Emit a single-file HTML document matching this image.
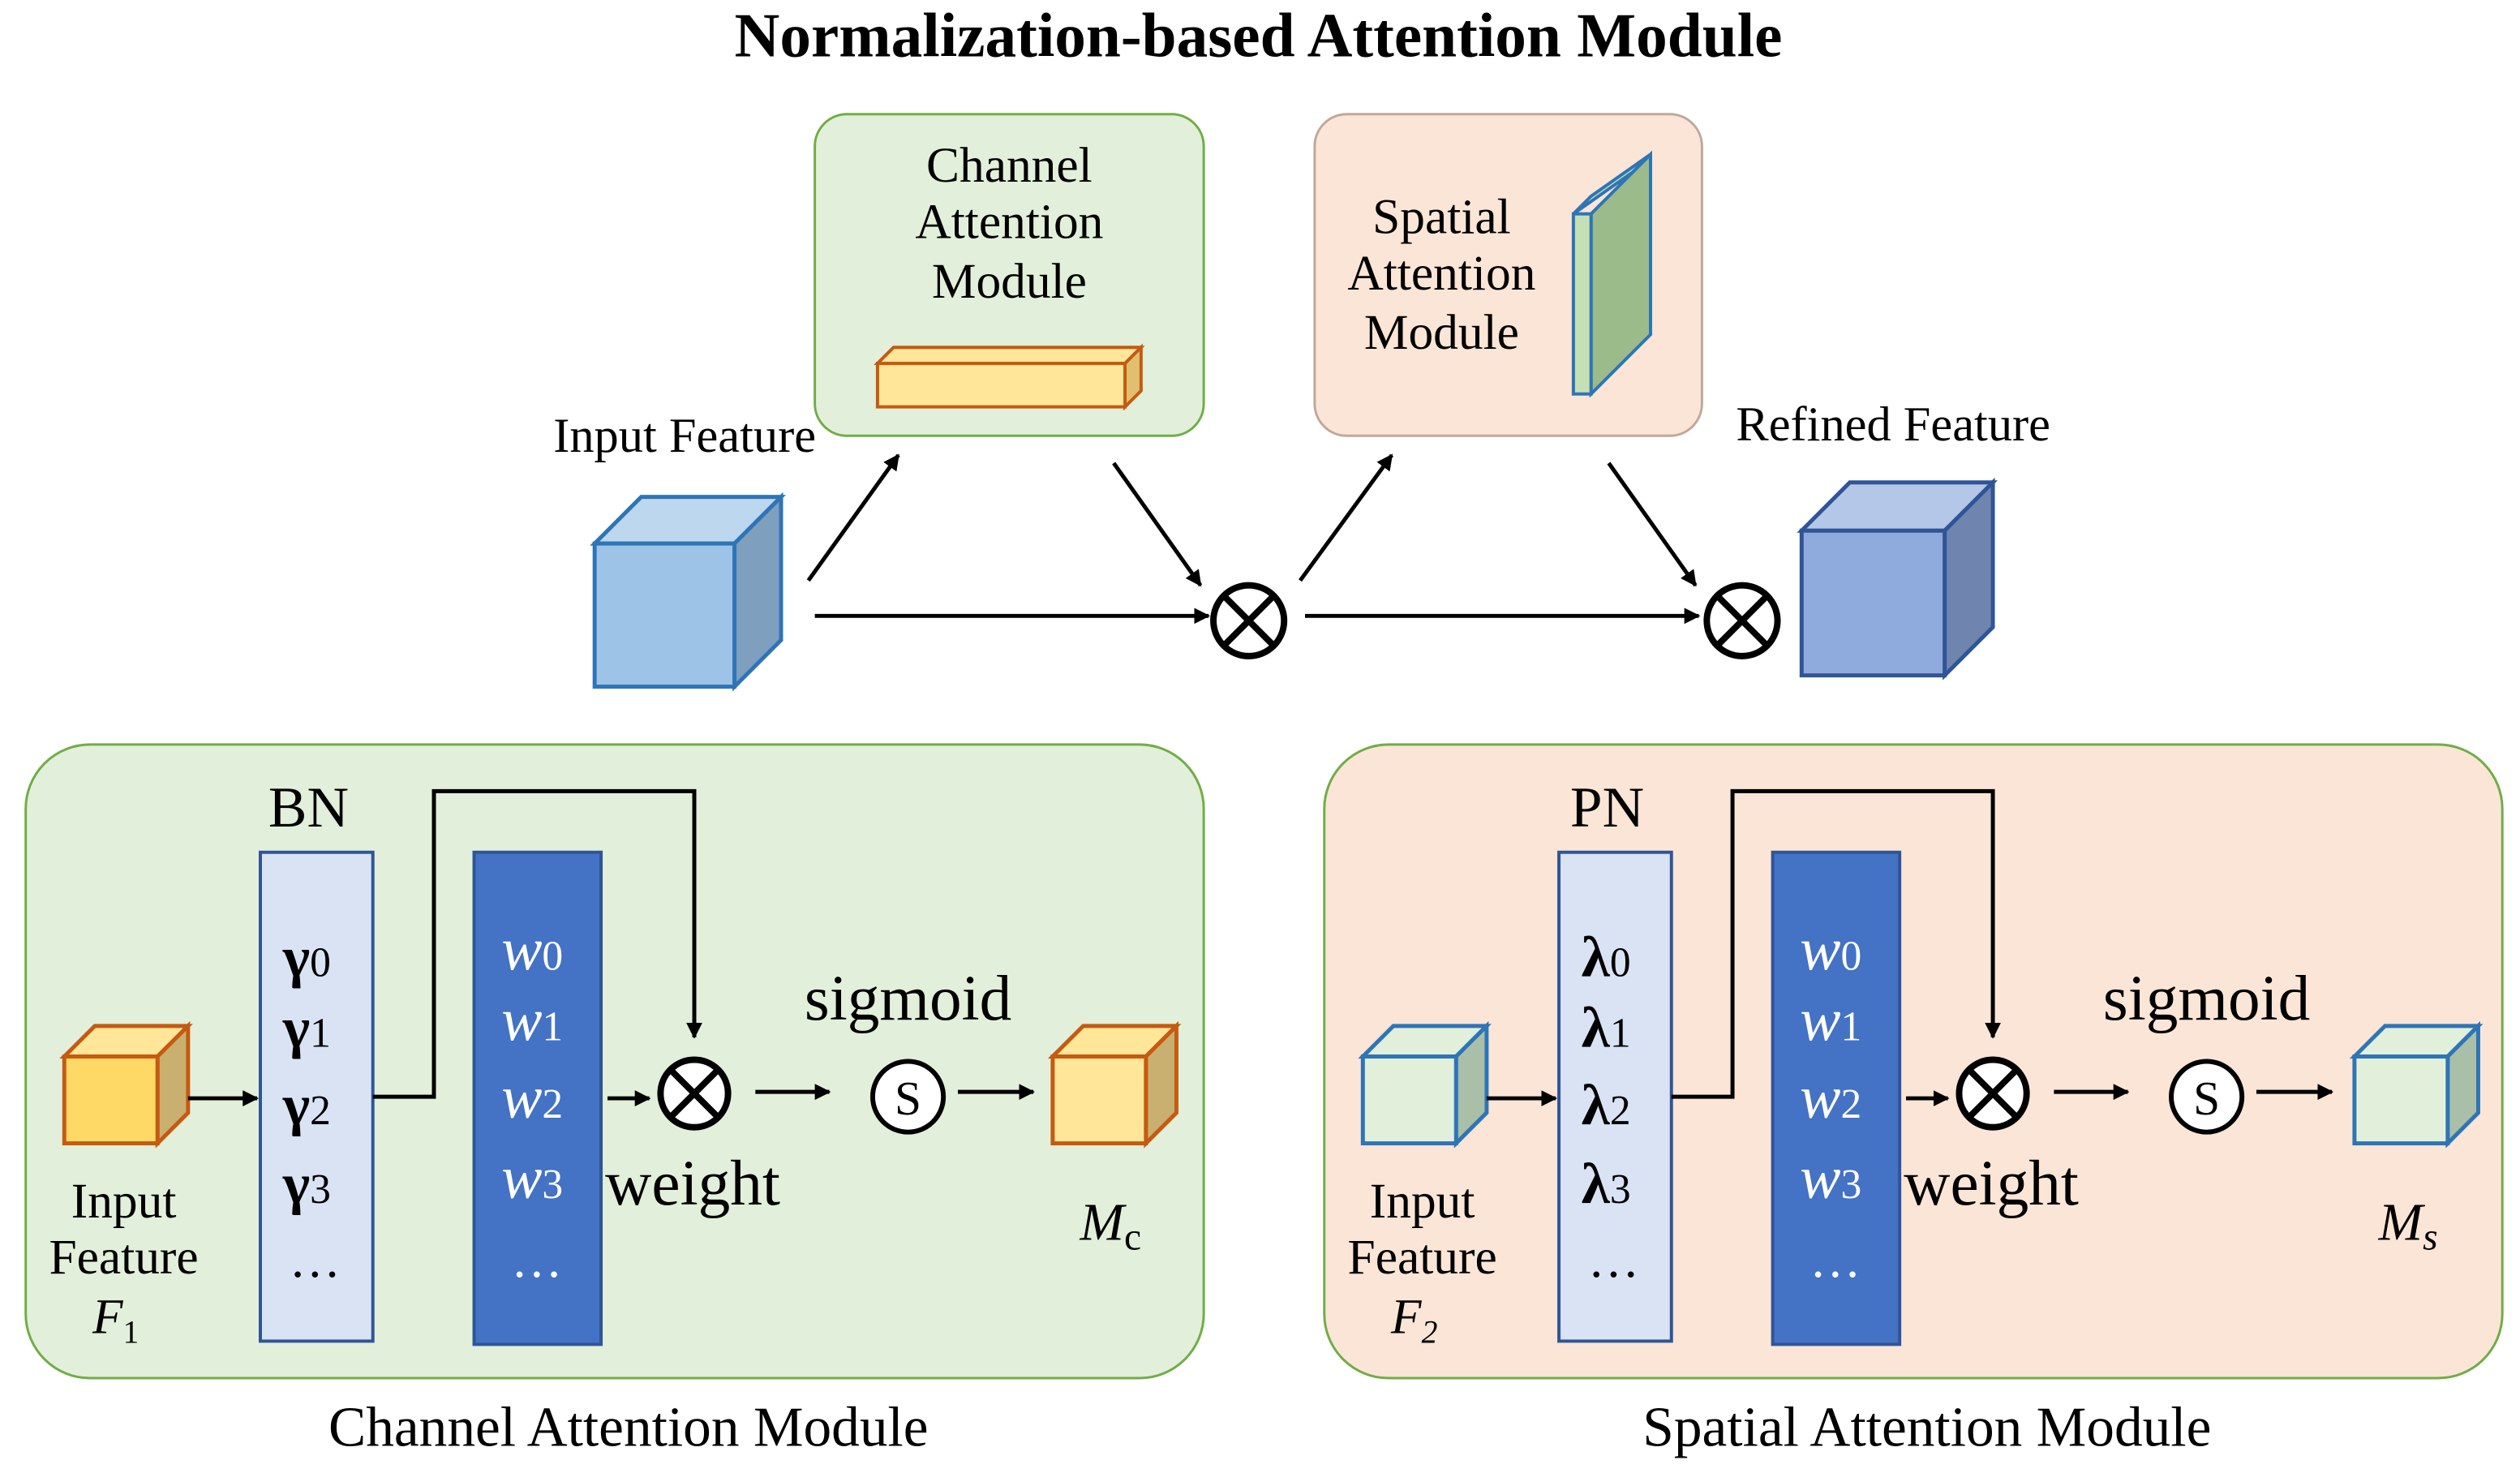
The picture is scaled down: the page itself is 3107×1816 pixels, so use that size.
<!DOCTYPE html>
<html><head><meta charset="utf-8"><style>html,body{margin:0;padding:0;background:#fff}svg{display:block}</style></head><body>
<svg width="3107" height="1816" viewBox="0 0 1568 916" preserveAspectRatio="none" xmlns="http://www.w3.org/2000/svg" font-family="Liberation Serif, serif">
<defs><marker id="a" markerWidth="10" markerHeight="10" refX="9" refY="5" orient="auto" markerUnits="userSpaceOnUse"><path d="M0,0 L10,5 L0,10 z" fill="#000"/></marker></defs>
<text x="783" y="35" font-size="39" font-weight="bold" text-anchor="middle">Normalization-based Attention Module</text>
<rect x="507" y="71" width="242" height="200" rx="20" fill="#e2efda" stroke="#70ad47" stroke-width="1.5"/>
<g font-size="31" text-anchor="middle"><text x="628" y="113">Channel</text><text x="628" y="148">Attention</text><text x="628" y="185">Module</text></g>
<g stroke="#c55a11" stroke-width="2" fill="#ffe699"><polygon points="546,226 556,216 710,216 700,226"/><polygon points="700,226 710,216 710,243 700,253" fill="#e0c070"/><rect x="546" y="226" width="154" height="27"/></g>
<rect x="818" y="71" width="241" height="200" rx="20" fill="#fbe5d6" stroke="#bfa89a" stroke-width="1.5"/>
<g font-size="31" text-anchor="middle"><text x="897" y="145">Spatial</text><text x="897" y="180">Attention</text><text x="897" y="217">Module</text></g>
<g stroke="#2e75b6" stroke-width="2"><polygon points="979,133 990,122 1027,96 1016,107" fill="#c5e0b4"/><polygon points="990,133 1027,96 1027,208 990,245" fill="#9bbb8a"/><rect x="979" y="133" width="11" height="112" fill="#c5e0b4"/></g>
<text x="426" y="281" font-size="30.5" text-anchor="middle">Input Feature</text>
<g stroke="#2e75b6" stroke-width="2.5"><polygon points="370,338 399,309 486,309 457,338" fill="#bdd7ee"/><polygon points="457,338 486,309 486,398 457,427" fill="#7f9fbf"/><rect x="370" y="338" width="87" height="89" fill="#9dc3e6"/></g>
<text x="1178" y="274" font-size="30.5" text-anchor="middle">Refined Feature</text>
<g stroke="#2f5597" stroke-width="2.5"><polygon points="1121,330 1151,300 1240,300 1210,330" fill="#b4c7e7"/><polygon points="1210,330 1240,300 1240,390 1210,420" fill="#6f85b0"/><rect x="1121" y="330" width="89" height="90" fill="#8faadc"/></g>
<g stroke="#000" stroke-width="2.5" marker-end="url(#a)" fill="none">
<line x1="503" y1="361" x2="559" y2="283"/><line x1="693" y1="288" x2="747" y2="364"/>
<line x1="507" y1="383" x2="752" y2="383"/><line x1="812" y1="383" x2="1057" y2="383"/>
<line x1="809" y1="361" x2="866" y2="283"/><line x1="1001" y1="288" x2="1055" y2="364"/>
</g>
<g stroke="#000" stroke-width="4" fill="#fff"><circle cx="777" cy="386" r="22"/><line x1="761" y1="370" x2="793" y2="402"/><line x1="793" y1="370" x2="761" y2="402"/>
<circle cx="1084" cy="386" r="22"/><line x1="1068" y1="370" x2="1100" y2="402"/><line x1="1100" y1="370" x2="1068" y2="402"/></g>
<rect x="16" y="463" width="733" height="394" rx="40" fill="#e2efda" stroke="#70ad47" stroke-width="1.5"/>
<rect x="824" y="463" width="733" height="394" rx="40" fill="#fbe5d6" stroke="#70ad47" stroke-width="1.5"/>
<g font-size="35" text-anchor="middle"><text x="391" y="899">Channel Attention Module</text><text x="1199" y="899">Spatial Attention Module</text></g>
<g stroke="#c55a11" stroke-width="2.5"><polygon points="40,657 59,638 117,638 98,657" fill="#ffe699"/><polygon points="98,657 117,638 117,692 98,711" fill="#c9b070"/><rect x="40" y="657" width="58" height="54" fill="#ffd966"/></g>
<g font-size="31" text-anchor="middle"><text x="77" y="757">Input</text><text x="77" y="792">Feature</text><text x="72" y="829" font-style="italic">F<tspan font-size="20" dy="6" font-style="normal">1</tspan></text></g>
<text x="192" y="514" font-size="36" text-anchor="middle">BN</text>
<rect x="162" y="530" width="70" height="304" fill="#dae3f3" stroke="#2f5597" stroke-width="2"/>
<g font-size="36" font-weight="bold"><text x="176" y="607">γ<tspan font-size="26" font-weight="normal">0</tspan></text><text x="176" y="651">γ<tspan font-size="26" font-weight="normal">1</tspan></text><text x="176" y="699">γ<tspan font-size="26" font-weight="normal">2</tspan></text><text x="176" y="748">γ<tspan font-size="26" font-weight="normal">3</tspan></text></g>
<text x="196" y="794" font-size="32" text-anchor="middle">…</text>
<rect x="295" y="530" width="79" height="306" fill="#4472c4" stroke="#2f5597" stroke-width="2"/>
<g font-size="38" font-style="italic" fill="#fff"><text x="312" y="603">w<tspan font-size="26" font-style="normal">0</tspan></text><text x="312" y="647">w<tspan font-size="26" font-style="normal">1</tspan></text><text x="312" y="695">w<tspan font-size="26" font-style="normal">2</tspan></text><text x="312" y="745">w<tspan font-size="26" font-style="normal">3</tspan></text><text x="334" y="794" font-style="normal" font-size="32" text-anchor="middle">…</text></g>
<g stroke="#000" stroke-width="2.5" fill="none"><line x1="117" y1="683" x2="160" y2="683" marker-end="url(#a)"/><polyline points="232,682 270,682 270,492 432,492 432,645" marker-end="url(#a)"/><line x1="378" y1="683" x2="404" y2="683" marker-end="url(#a)"/><line x1="470" y1="679" x2="516" y2="679" marker-end="url(#a)"/><line x1="596" y1="679" x2="643" y2="679" marker-end="url(#a)"/></g>
<g stroke="#000" stroke-width="4" fill="#fff"><circle cx="432" cy="680" r="21"/><line x1="417" y1="665" x2="447" y2="695"/><line x1="447" y1="665" x2="417" y2="695"/></g>
<text x="431" y="749" font-size="40" text-anchor="middle">weight</text>
<text x="565" y="634" font-size="40" text-anchor="middle">sigmoid</text>
<circle cx="565" cy="682" r="22" fill="#fff" stroke="#000" stroke-width="3"/><text x="565" y="693" font-size="30" text-anchor="middle">S</text>
<g stroke="#c55a11" stroke-width="2.5"><polygon points="655,657 674,638 732,638 713,657" fill="#ffe699"/><polygon points="713,657 732,638 732,692 713,711" fill="#c9b070"/><rect x="655" y="657" width="58" height="54" fill="#ffe699"/></g>
<text x="672" y="771" font-size="33" font-style="italic">M<tspan font-size="24" font-style="normal" dy="6">c</tspan></text>
<g stroke="#2e75b6" stroke-width="2.5"><polygon points="848,657 867,638 925,638 906,657" fill="#e2efda"/><polygon points="906,657 925,638 925,692 906,711" fill="#a9bfa8"/><rect x="848" y="657" width="58" height="54" fill="#e2efda"/></g>
<g font-size="31" text-anchor="middle"><text x="885" y="757">Input</text><text x="885" y="792">Feature</text><text x="880" y="829" font-style="italic">F<tspan font-size="20" dy="6">2</tspan></text></g>
<text x="1000" y="514" font-size="36" text-anchor="middle">PN</text>
<rect x="970" y="530" width="70" height="304" fill="#dae3f3" stroke="#2f5597" stroke-width="2"/>
<g font-size="36" font-weight="bold"><text x="984" y="607">λ<tspan font-size="26" font-weight="normal">0</tspan></text><text x="984" y="651">λ<tspan font-size="26" font-weight="normal">1</tspan></text><text x="984" y="699">λ<tspan font-size="26" font-weight="normal">2</tspan></text><text x="984" y="748">λ<tspan font-size="26" font-weight="normal">3</tspan></text></g>
<text x="1004" y="794" font-size="32" text-anchor="middle">…</text>
<rect x="1103" y="530" width="79" height="306" fill="#4472c4" stroke="#2f5597" stroke-width="2"/>
<g font-size="38" font-style="italic" fill="#fff"><text x="1120" y="603">w<tspan font-size="26" font-style="normal">0</tspan></text><text x="1120" y="647">w<tspan font-size="26" font-style="normal">1</tspan></text><text x="1120" y="695">w<tspan font-size="26" font-style="normal">2</tspan></text><text x="1120" y="745">w<tspan font-size="26" font-style="normal">3</tspan></text><text x="1142" y="794" font-style="normal" font-size="32" text-anchor="middle">…</text></g>
<g stroke="#000" stroke-width="2.5" fill="none"><line x1="925" y1="683" x2="968" y2="683" marker-end="url(#a)"/><polyline points="1040,682 1078,682 1078,492 1240,492 1240,645" marker-end="url(#a)"/><line x1="1186" y1="683" x2="1212" y2="683" marker-end="url(#a)"/><line x1="1278" y1="679" x2="1324" y2="679" marker-end="url(#a)"/><line x1="1404" y1="679" x2="1451" y2="679" marker-end="url(#a)"/></g>
<g stroke="#000" stroke-width="4" fill="#fff"><circle cx="1240" cy="680" r="21"/><line x1="1225" y1="665" x2="1255" y2="695"/><line x1="1255" y1="665" x2="1225" y2="695"/></g>
<text x="1239" y="749" font-size="40" text-anchor="middle">weight</text>
<text x="1373" y="634" font-size="40" text-anchor="middle">sigmoid</text>
<circle cx="1373" cy="682" r="22" fill="#fff" stroke="#000" stroke-width="3"/><text x="1373" y="693" font-size="30" text-anchor="middle">S</text>
<g stroke="#2e75b6" stroke-width="2.5"><polygon points="1465,657 1484,638 1542,638 1523,657" fill="#e2efda"/><polygon points="1523,657 1542,638 1542,692 1523,711" fill="#a9bfa8"/><rect x="1465" y="657" width="58" height="54" fill="#e2efda"/></g>
<text x="1480" y="771" font-size="33" font-style="italic">M<tspan font-size="24" dy="6">s</tspan></text>
</svg>
</body></html>
